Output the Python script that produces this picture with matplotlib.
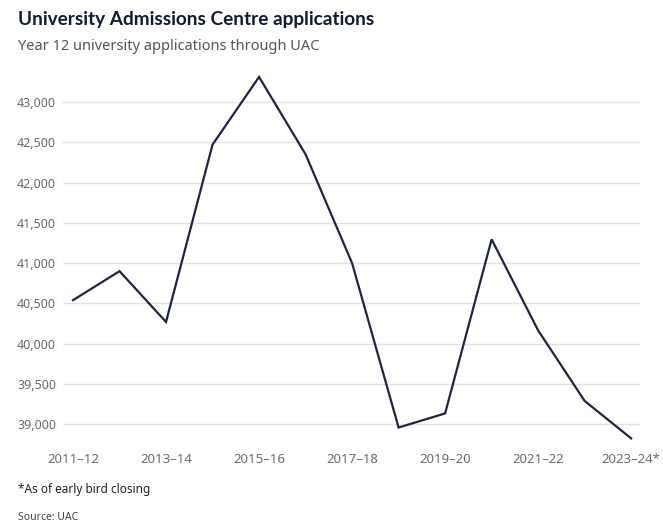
import matplotlib
matplotlib.use("Agg")
import matplotlib.pyplot as plt

plt.rcParams['font.family'] = ['Noto Sans', 'DejaVu Sans']

years = ["2011–12", "2012–13", "2013–14", "2014–15", "2015–16", "2016–17", "2017–18",
         "2018–19", "2019–20", "2020–21", "2021–22", "2022–23", "2023–24*"]
applications = [40540, 40900, 40270, 42470, 43310, 42350, 41000,
                38960, 39135, 41295, 40165, 39290, 38825]
yticks = [39000, 39500, 40000, 40500, 41000, 41500, 42000, 42500, 43000]

fig = plt.figure(figsize=(6.63, 5.26), dpi=100)
ax = fig.add_axes([63 / 663, 0.1627, (640 - 63) / 663, 0.8675 - 0.1627])

# one point per year, label every second year
x = list(range(len(years)))
ax.plot(x, applications, color="#1d2540", linewidth=1.6, solid_joinstyle="miter")

ax.set_xlim(-0.215, 12.19)
ax.set_ylim(38800, 43400)
ax.set_yticks(yticks)
ax.set_yticklabels([f"{v:,}" for v in yticks])
ax.set_xticks(x[::2])
ax.set_xticklabels(years[::2])

for s in ax.spines.values():
    s.set_visible(False)
ax.grid(axis="y", color="#e3e3e3", linewidth=1)
ax.set_axisbelow(True)
ax.tick_params(axis="both", length=0, labelsize=9, colors="#6b6b6b")
ax.tick_params(axis="x", labelsize=9.5)
ax.tick_params(axis="y", pad=5)
ax.tick_params(axis="x", pad=9)

fig.text(18 / 663, 1 - 20 / 526, "University Admissions Centre applications",
         fontsize=13.7, fontweight="bold", color="#121b33", va="center",
         family=["Lato", "DejaVu Sans"])
fig.text(18 / 663, 1 - 47 / 526, "Year 12 university applications through UAC",
         fontsize=10.5, color="#555555", va="center")
fig.text(18 / 663, 1 - 490 / 526, "*As of early bird closing",
         fontsize=8.5, color="#222222", va="center")
fig.text(18 / 663, 1 - 517 / 526, "Source: UAC",
         fontsize=7.5, color="#444444", va="center")

fig.savefig("out.png", dpi=100)
